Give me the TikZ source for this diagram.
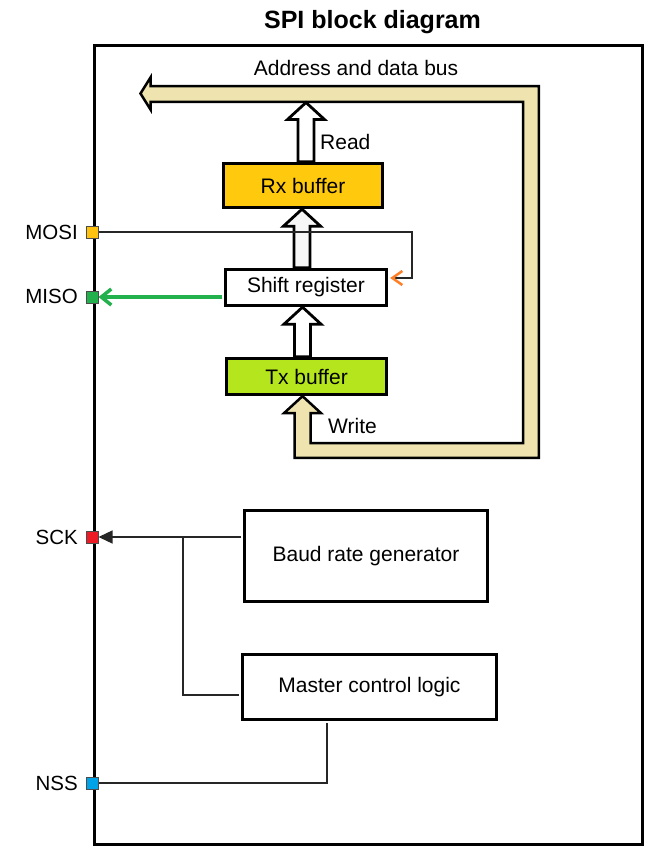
\documentclass[tikz,border=0pt]{standalone}
\usepackage{fontspec}
\setmainfont{Liberation Sans}
\usetikzlibrary{arrows.meta,calc,backgrounds}
\definecolor{busfill}{HTML}{EFE4B0}
\definecolor{rxfill}{HTML}{FFC90E}
\definecolor{txfill}{HTML}{B5E61D}
\definecolor{mosicol}{HTML}{FFC20E}
\definecolor{misocol}{HTML}{22B14C}
\definecolor{sckcol}{HTML}{ED1C24}
\definecolor{nsscol}{HTML}{00A2E8}
\definecolor{tipcol}{HTML}{FF7F27}
\newcommand\fatarrow[3]{%
  \filldraw[hollow,#1] ($(#2)+(-8,0)$) -- ($(#3)+(-8,17)$) -- ($(#3)+(-18.5,17)$) -- (#3)
    -- ($(#3)+(18.5,17)$) -- ($(#3)+(8,17)$) -- ($(#2)+(8,0)$) -- cycle;}
\begin{document}
\begin{tikzpicture}[x=1pt,y=-1pt,
  box/.style={draw=black, line width=3.3pt, inner sep=0pt, font=\fontsize{21}{25}\selectfont},
  lbl/.style={inner sep=0pt, font=\fontsize{21}{25}\selectfont},
  pinlbl/.style={inner sep=0pt, font=\fontsize{20.5}{24}\selectfont, anchor=base east},
  pinsq/.style={draw=black!70, line width=1pt, minimum size=12pt, inner sep=0pt},
  wire/.style={line width=1.3pt, draw=black!85},
  hollow/.style={line width=2.8pt, line join=miter, draw=black, fill=white}]
\useasboundingbox (0,0) rectangle (665,857);

% title and frame
\node[inner sep=0pt, font=\bfseries\fontsize{25}{30}\selectfont, anchor=base] (title) at (372.5,28.3) {SPI block diagram};
\node[draw, line width=3pt, minimum width=548pt, minimum height=799pt, inner sep=0pt, anchor=north west] (frame) at (93,44) {};

% blocks
\node[box, fill=rxfill, minimum width=159pt, minimum height=44pt] (rx) at (303,185.5) {Rx buffer};
\node[box, fill=white, minimum width=161pt, minimum height=36pt] (shift) at (306,287.5) {Shift register};
\node[box, fill=txfill, minimum width=160pt, minimum height=36pt] (tx) at (306.5,376.5) {Tx buffer};
\node[box, fill=white, minimum width=243pt, minimum height=91pt] (baud) at (366,556) {Baud rate generator};
\node[box, fill=white, minimum width=254pt, minimum height=65pt] (master) at (369.5,687) {Master control logic};

% bus and internal data arrows
\begin{scope}[on background layer]
  \coordinate (writetip) at ($(tx.south)+(-4,0)$);
  \filldraw[fill=busfill, draw=black, line width=2.5pt, line join=miter]
    (140.5,93.5) -- (150.5,77.5) -- (150.5,86.2) -- (538.8,86.2) -- (538.8,457.8)
    -- (294.5,457.8) -- ($(writetip)+(-8,17)$) -- ($(writetip)+(-18.5,17)$) -- (writetip)
    -- ($(writetip)+(18.5,17)$) -- ($(writetip)+(8,17)$) -- (310.5,443.2) -- (523.2,443.2)
    -- (523.2,101.8) -- (150.5,101.8) -- (150.5,109.5) -- cycle;
  \coordinate (readtip) at (306,102.5);
  \fatarrow{}{$(rx.north)+(3,0)$}{readtip}
  \fatarrow{fill=black!3}{$(shift.north)+(-4,0)$}{$(rx.south)+(-1,0)$}
  \fatarrow{}{$(tx.north)+(-4,0)$}{$(shift.south)+(-3.5,0)$}
\end{scope}

\node[lbl, anchor=base] (buslbl) at (356,75) {Address and data bus};
\node[lbl, anchor=base west] (readlbl) at (320,149) {Read};
\node[lbl, anchor=base west] (writelbl) at (328,433) {Write};

% pins
\node[pinsq, fill=mosicol] (mosi) at (92,232) {};
\node[pinsq, fill=misocol] (miso) at (92,297) {};
\node[pinsq, fill=sckcol] (sck) at (92,537) {};
\node[pinsq, fill=nsscol] (nss) at (92,783) {};
\node[pinlbl] (mosil) at (78,239.5) {MOSI};
\node[pinlbl] (misol) at (78,303.5) {MISO};
\node[pinlbl] (sckl) at (78,544) {SCK};
\node[pinlbl] (nssl) at (78,790) {NSS};

% connectors
\coordinate (mosicorner) at (412,232);
\draw[wire, -{Straight Barb[color=tipcol, line width=2.5pt, length=10pt, width=14pt]}]
  (mosi.east) -- (mosicorner) |- ($(shift.east)+(2,-9.5)$);
\draw[line width=3.5pt, draw=misocol, shorten <=1.6pt, -{Straight Barb[length=10pt, width=16pt]}]
  (shift.west |- miso.east) -- (miso.east);
\draw[wire, shorten <=1.6pt, -{Triangle[length=14pt, width=13pt]}] (baud.west |- sck.east) -- (sck.east);
\coordinate (sckjoin) at (183,537);
\draw[wire, shorten >=1.6pt] (sckjoin) |- ($(master.west)+(0,8)$);
\draw[wire, shorten >=1.6pt] (nss.east) -| ($(master.south)+(-42.5,0)$);
\end{tikzpicture}
\end{document}
